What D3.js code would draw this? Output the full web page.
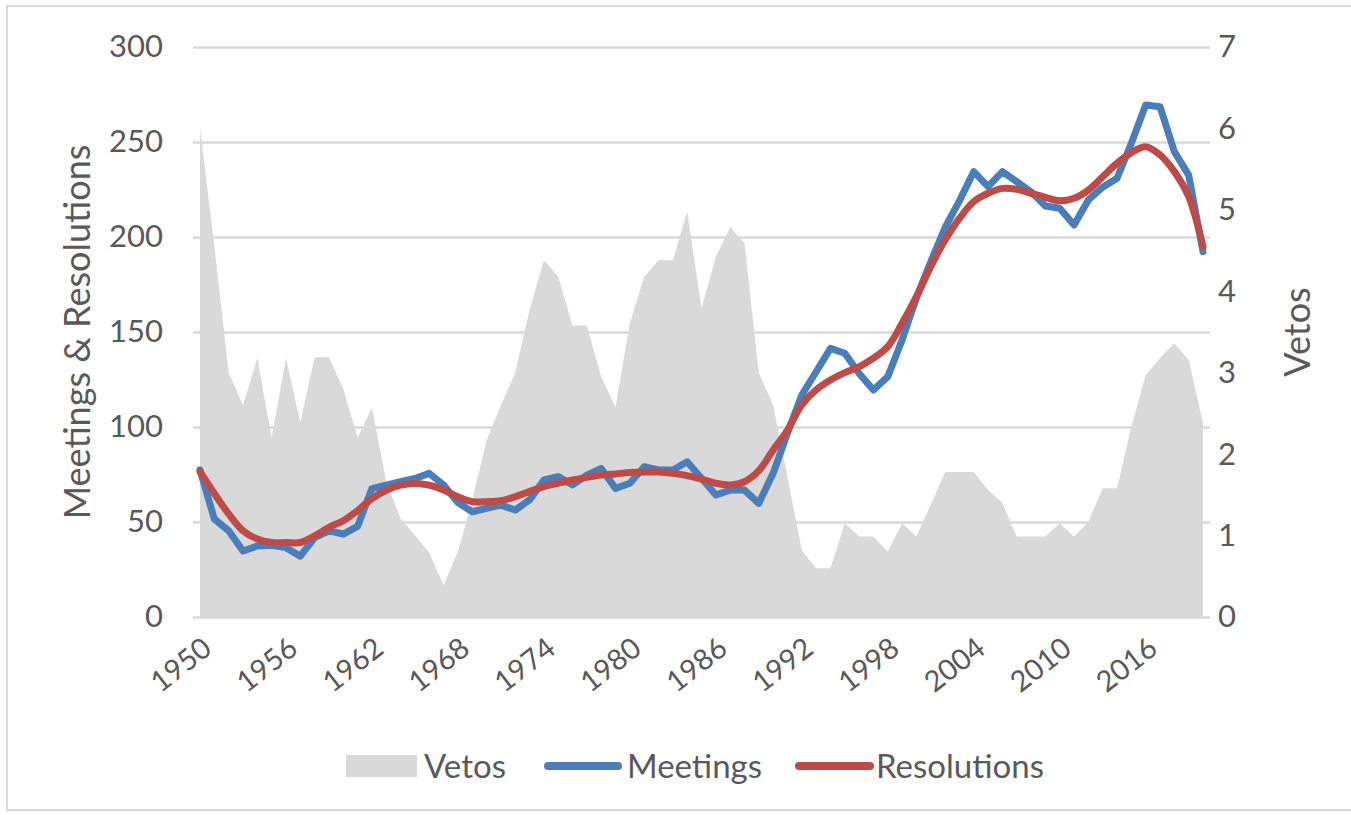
<!DOCTYPE html>
<html>
<head>
<meta charset="utf-8">
<script src="https://cdn.jsdelivr.net/npm/d3@7"></script>
<style>
    body { margin: 0; background: #fff; }
    svg text { font-family: Lato, "Open Sans", sans-serif; fill: #595959; }
</style>
</head>
<body>
<svg id="chart" width="1351" height="815"></svg>
<script>
const years = [
    1950, 1951, 1952, 1953, 1954, 1955, 1956, 1957, 1958, 1959,
    1960, 1961, 1962, 1963, 1964, 1965, 1966, 1967, 1968, 1969,
    1970, 1971, 1972, 1973, 1974, 1975, 1976, 1977, 1978, 1979,
    1980, 1981, 1982, 1983, 1984, 1985, 1986, 1987, 1988, 1989,
    1990, 1991, 1992, 1993, 1994, 1995, 1996, 1997, 1998, 1999,
    2000, 2001, 2002, 2003, 2004, 2005, 2006, 2007, 2008, 2009,
    2010, 2011, 2012, 2013, 2014, 2015, 2016, 2017, 2018, 2019,
    2020
];

const vetos = [
    6.0, 4.56, 3.0, 2.6, 3.18, 2.2, 3.18, 2.39, 3.19, 3.19,
    2.8, 2.2, 2.57, 1.66, 1.21, 1.0, 0.79, 0.39, 0.8, 1.44,
    2.17, 2.6, 3.0, 3.77, 4.38, 4.18, 3.58, 3.58, 2.95, 2.58,
    3.61, 4.18, 4.38, 4.38, 4.98, 3.79, 4.42, 4.79, 4.59, 3.0,
    2.6, 1.72, 0.82, 0.6, 0.6, 1.15, 0.99, 0.99, 0.8, 1.15,
    0.99, 1.38, 1.78, 1.78, 1.78, 1.56, 1.4, 0.99, 0.99, 0.99,
    1.15, 0.99, 1.17, 1.58, 1.58, 2.34, 2.97, 3.18, 3.36, 3.16,
    2.38
];

const meetings = [
    77.4, 51.6, 45.4, 34.7, 37.4, 37.7, 36.5, 32, 41.8, 45.4,
    43.6, 47.7, 67.6, 69.4, 71.2, 72.9, 75.6, 69.5, 60.2, 55.4,
    57.2, 58.9, 56.3, 61.6, 72.1, 73.9, 69.5, 74.7, 78.2, 67.7,
    70.4, 79.1, 77.4, 77.4, 81.7, 73, 64.2, 66.8, 66.8, 59.8,
    75.6, 96.7, 116.8, 129.1, 141.4, 138.8, 128.2, 119.5, 126.5, 145.8,
    168, 187, 205, 219, 234.4, 226.5, 234.4, 229.1, 223.8, 216.3,
    215.1, 206.3, 219.5, 226.2, 230.9, 249.3, 269.5, 268.6, 244.9, 232.6,
    192.3
];

const resolutions = [
    76.5, 65, 54.3, 45.4, 41, 39.2, 39.2, 39.2, 42.7, 47.2,
    50.7, 56, 62.3, 66.7, 69.4, 70.3, 69.4, 66.8, 63.3, 60.7,
    60.7, 61.2, 63.3, 66, 68.6, 70.4, 72.1, 73.5, 74.7, 75.3,
    76, 76.3, 76.3, 75.6, 74.4, 72.6, 70.4, 69.5, 71.2, 77,
    87.9, 98.4, 111.6, 119.5, 124.7, 128.6, 131.7, 136.2, 142.3, 154.6,
    168.6, 184.4, 198.4, 209.8, 218.6, 223, 225.6, 225.1, 223, 220.9,
    219.1, 220.4, 224.7, 231.7, 238.8, 244.4, 247.5, 243.2, 234.4, 221.2,
    194.9
];

const xTickYears = [1950, 1956, 1962, 1968, 1974, 1980, 1986, 1992, 1998, 2004, 2010, 2016];
const leftTicks = [0, 50, 100, 150, 200, 250, 300];
const rightTicks = [0, 1, 2, 3, 4, 5, 6, 7];

const svg = d3.select('#chart');

const gridLeft = 193;
const gridRight = 1210;

const x = d3.scalePoint()
    .domain(years)
    .range([200, 1203]);

const yLeft = d3.scaleLinear()
    .domain([0, 300])
    .range([617, 47]);

const yRight = d3.scaleLinear()
    .domain([0, 7])
    .range([617, 47]);

// chart frame
svg.append('rect')
    .attr('x', 7)
    .attr('y', 6)
    .attr('width', 1400)
    .attr('height', 804)
    .attr('fill', 'none')
    .attr('stroke', '#d9d9d9')
    .attr('stroke-width', 2);

// gridlines
const grid = svg.append('g')
    .attr('transform', `translate(${gridLeft},0)`)
    .call(d3.axisLeft(yLeft).tickValues(leftTicks).tickSize(-(gridRight - gridLeft)).tickFormat(''));

grid.select('.domain').remove();
grid.selectAll('line')
    .attr('stroke', '#d9d9d9')
    .attr('stroke-width', 2.5);

// vetos area
const area = d3.area()
    .x((d, i) => x(years[i]))
    .y0(yRight(0))
    .y1(d => yRight(d));

svg.append('path')
    .datum(vetos)
    .attr('fill', '#d9d9d9')
    .attr('d', area);

// meetings line
const meetingsLine = d3.line()
    .x((d, i) => x(years[i]))
    .y(d => yLeft(d));

svg.append('path')
    .datum(meetings)
    .attr('fill', 'none')
    .attr('stroke', '#4a7ebb')
    .attr('stroke-width', 7)
    .attr('stroke-linejoin', 'round')
    .attr('stroke-linecap', 'round')
    .attr('d', meetingsLine);

// resolutions line (smoothed)
const resolutionsLine = d3.line()
    .x((d, i) => x(years[i]))
    .y(d => yLeft(d))
    .curve(d3.curveCatmullRom.alpha(0.5));

svg.append('path')
    .datum(resolutions)
    .attr('fill', 'none')
    .attr('stroke', '#be4b48')
    .attr('stroke-width', 7)
    .attr('stroke-linejoin', 'round')
    .attr('stroke-linecap', 'round')
    .attr('d', resolutionsLine);

// left axis
const leftAxis = svg.append('g')
    .attr('transform', `translate(${gridLeft},0)`)
    .call(d3.axisLeft(yLeft).tickValues(leftTicks).tickSize(0).tickPadding(30));

leftAxis.select('.domain').remove();
leftAxis.selectAll('text')
    .style('font-size', '31px')
    .attr('fill', '#595959');

// right axis
const rightAxis = svg.append('g')
    .attr('transform', `translate(${gridRight},0)`)
    .call(d3.axisRight(yRight).tickValues(rightTicks).tickFormat(d3.format('d')).tickSize(0).tickPadding(8));

rightAxis.select('.domain').remove();
rightAxis.selectAll('text')
    .style('font-size', '31px')
    .attr('fill', '#595959');

// bottom axis
const bottomAxis = svg.append('g')
    .attr('transform', `translate(0,${yLeft(0)})`)
    .call(d3.axisBottom(x).tickValues(xTickYears).tickSize(0));

bottomAxis.select('.domain').remove();
bottomAxis.selectAll('text')
    .style('font-size', '29px')
    .attr('fill', '#595959')
    .attr('x', 0)
    .attr('y', 0)
    .attr('dy', 0)
    .attr('text-anchor', 'end')
    .attr('transform', 'translate(13,35) rotate(-38)');

// axis titles
svg.append('text')
    .attr('transform', 'translate(90,332) rotate(-90)')
    .attr('text-anchor', 'middle')
    .style('font-size', '36px')
    .text('Meetings & Resolutions');

svg.append('text')
    .attr('transform', 'translate(1310,332) rotate(-90)')
    .attr('text-anchor', 'middle')
    .style('font-size', '36px')
    .text('Vetos');

// legend
const legendY = 766;
const legend = svg.append('g');

legend.append('rect')
    .attr('x', 346)
    .attr('y', legendY - 11)
    .attr('width', 71)
    .attr('height', 22)
    .attr('fill', '#d9d9d9');

legend.append('text')
    .attr('x', 424)
    .attr('y', legendY)
    .attr('dy', '0.35em')
    .style('font-size', '33px')
    .text('Vetos');

legend.append('line')
    .attr('x1', 548)
    .attr('x2', 618)
    .attr('y1', legendY)
    .attr('y2', legendY)
    .attr('stroke', '#4a7ebb')
    .attr('stroke-width', 8)
    .attr('stroke-linecap', 'round');

legend.append('text')
    .attr('x', 627)
    .attr('y', legendY)
    .attr('dy', '0.35em')
    .style('font-size', '33px')
    .text('Meetings');

legend.append('line')
    .attr('x1', 799)
    .attr('x2', 870)
    .attr('y1', legendY)
    .attr('y2', legendY)
    .attr('stroke', '#be4b48')
    .attr('stroke-width', 8)
    .attr('stroke-linecap', 'round');

legend.append('text')
    .attr('x', 876)
    .attr('y', legendY)
    .attr('dy', '0.35em')
    .style('font-size', '33px')
    .text('Resolutions');
</script>
</body>
</html>
